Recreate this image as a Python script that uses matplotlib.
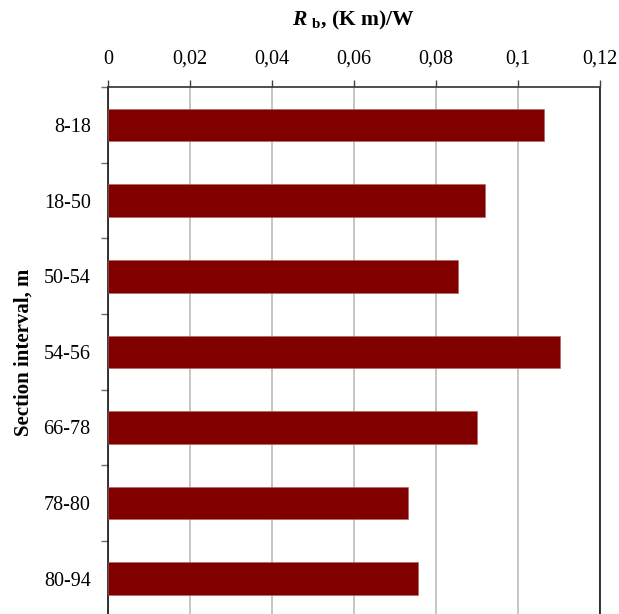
import matplotlib
matplotlib.use("Agg")
import matplotlib.pyplot as plt
from matplotlib.ticker import FuncFormatter
import numpy as np

categories = ["8-18", "18-50", "50-54", "54-56", "66-78", "78-80", "80-94"]
rb_values = [0.1064, 0.0919, 0.0854, 0.1102, 0.0900, 0.0732, 0.0755]
x_ticks = [0, 0.02, 0.04, 0.06, 0.08, 0.1, 0.12]

plt.rcParams['font.family'] = ['Liberation Serif', 'DejaVu Serif']
plt.rcParams['mathtext.fontset'] = 'custom'
plt.rcParams['mathtext.it'] = 'Liberation Serif:italic:bold'
plt.rcParams['mathtext.rm'] = 'Liberation Serif:bold'
plt.rcParams['mathtext.bf'] = 'Liberation Serif:bold'

fig = plt.figure(figsize=(6.19, 6.14), dpi=100)
ax = fig.add_axes([108/619, 1 - 616.5/614, 492/619, (616.5 - 87.3)/614])

y = np.arange(len(categories))
ax.barh(y, rb_values, height=0.43, color="#800000", edgecolor="#b06060", linewidth=0.4, zorder=3)

ax.set_xlim(0, 0.12)
ax.set_ylim(len(categories) - 0.5, -0.5)

ax.xaxis.tick_top()
ax.xaxis.set_label_position('top')
ax.set_xticks(x_ticks)
ax.xaxis.set_major_formatter(FuncFormatter(lambda v, p: ("%g" % v).replace('.', ',')))
ax.tick_params(axis='x', which='major', direction='out', length=5, width=1, color='#404040',
               labelsize=14.5, pad=8.5)
ax.grid(axis='x', color='#b5b5b5', linewidth=1.1, zorder=0)

ax.set_yticks(y)
ax.set_yticklabels(categories)
ax.set_yticks(np.arange(len(categories) + 1) - 0.5, minor=True)
ax.tick_params(axis='y', which='major', length=0, labelsize=14.5, pad=12.5)
ax.tick_params(axis='y', which='minor', direction='out', length=5, width=1, color='#707070')

for s in ['left', 'right']:
    ax.spines[s].set_color('black')
    ax.spines[s].set_linewidth(1.1)
ax.spines['top'].set_color('#404040')
ax.spines['top'].set_linewidth(1.3)
ax.spines['bottom'].set_visible(False)

ax.set_xlabel(r"$R$ $_{\mathrm{b}}$, (K m)/W", fontsize=15.5, fontweight='bold', labelpad=17)
ax.set_ylabel("Section interval, m", fontsize=15, fontweight='bold', labelpad=7)

fig.savefig("out.png", dpi=100)
